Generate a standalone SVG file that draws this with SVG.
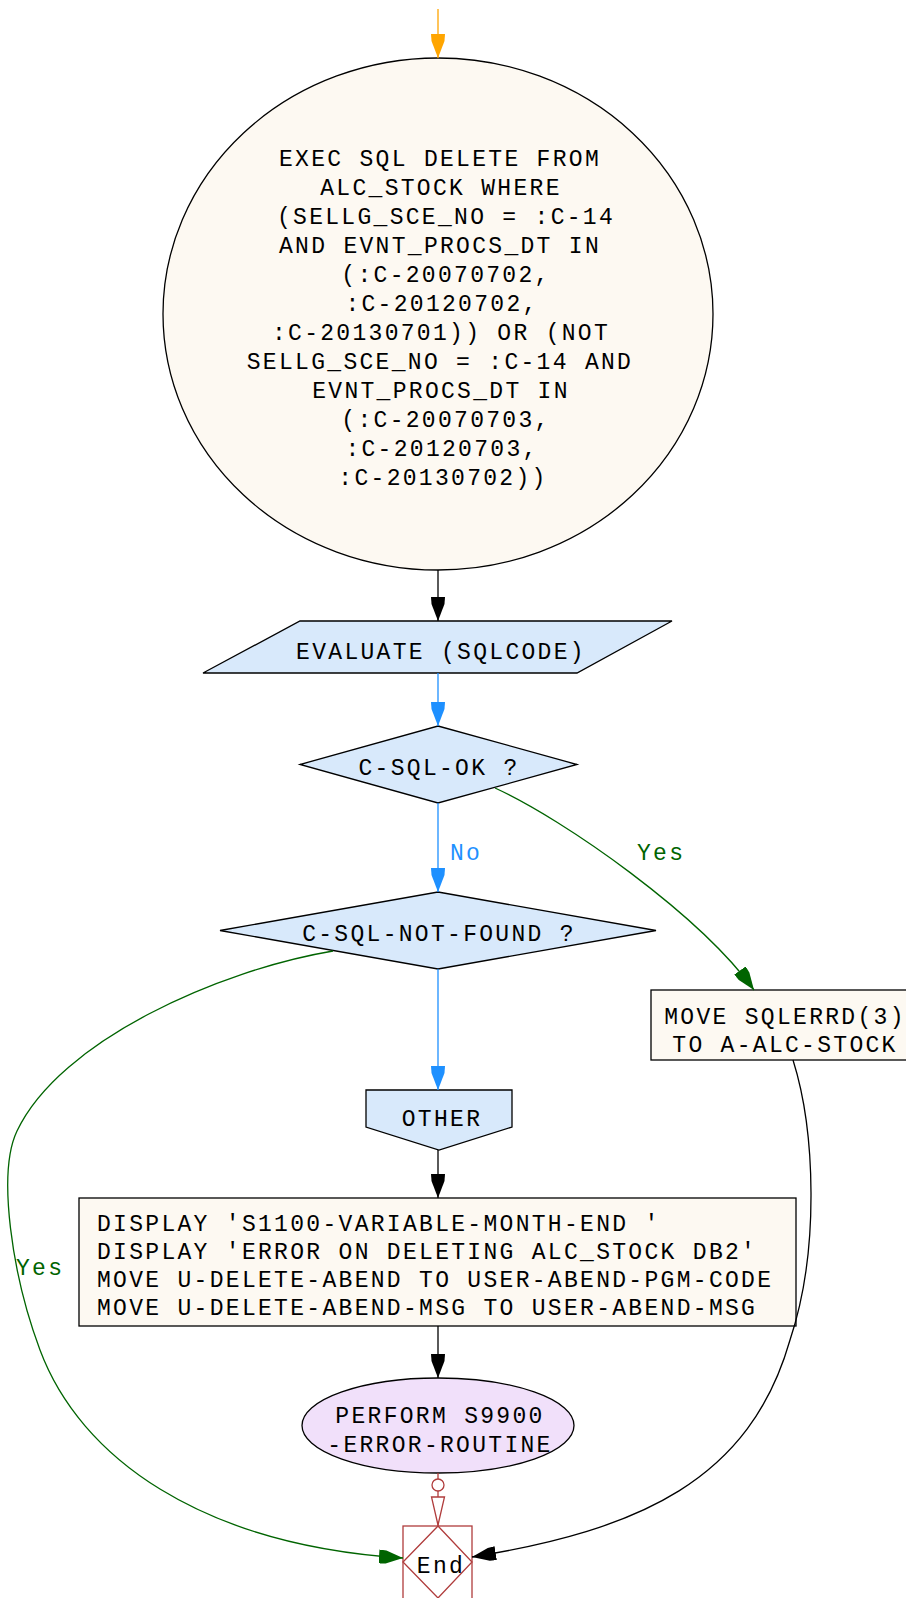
<svg xmlns="http://www.w3.org/2000/svg" width="906" height="1598" viewBox="0 0 906 1598">
  <style>
    text { font-family: "Liberation Mono", "DejaVu Sans Mono", monospace; font-size: 23px; letter-spacing: 2.3px; fill: #000; }
    .c { text-anchor: middle; }
    .proc { fill: #fdf9f2; stroke: #000; stroke-width: 1.3; }
    .dec { fill: #d8e9fb; stroke: #000; stroke-width: 1.3; }
    .call { fill: #f1e0fa; stroke: #000; stroke-width: 1.3; }
    .term { fill: #fff; stroke: #b03c3c; stroke-width: 1.3; }
    .edge { fill: none; stroke-width: 1.3; }
    .k { stroke: #000; }
    .b { stroke: #1e90ff; }
    .g { stroke: #006400; }
    .o { stroke: #ffa500; }
    .lbl-b { fill: #1e90ff; }
    .lbl-g { fill: #006400; }
  </style>
  <defs>
    <marker id="ah-k" viewBox="0 0 24 14" refX="24" refY="7" markerWidth="24" markerHeight="14" markerUnits="userSpaceOnUse" orient="auto">
      <path d="M0,0 L7,0.5 L24,7 L7,13.5 L0,14 Z" fill="#000"/>
    </marker>
    <marker id="ah-b" viewBox="0 0 24 14" refX="24" refY="7" markerWidth="24" markerHeight="14" markerUnits="userSpaceOnUse" orient="auto">
      <path d="M0,0 L7,0.5 L24,7 L7,13.5 L0,14 Z" fill="#1e90ff"/>
    </marker>
    <marker id="ah-g" viewBox="0 0 24 14" refX="24" refY="7" markerWidth="24" markerHeight="14" markerUnits="userSpaceOnUse" orient="auto">
      <path d="M0,0 L7,0.5 L24,7 L7,13.5 L0,14 Z" fill="#006400"/>
    </marker>
    <marker id="ah-o" viewBox="0 0 24 14" refX="24" refY="7" markerWidth="24" markerHeight="14" markerUnits="userSpaceOnUse" orient="auto">
      <path d="M0,0 L7,0.5 L24,7 L7,13.5 L0,14 Z" fill="#ffa500"/>
    </marker>
  </defs>

  <!-- nodes -->
  <g id="sql-delete">
    <ellipse class="proc" cx="438" cy="314" rx="275" ry="256"/>
    <text class="c" x="440" y="166">EXEC SQL DELETE FROM</text>
    <text class="c" x="441" y="195">ALC_STOCK WHERE</text>
    <text class="c" x="446" y="224">(SELLG_SCE_NO = :C-14</text>
    <text class="c" x="440" y="253">AND EVNT_PROCS_DT IN</text>
    <text class="c" x="446" y="282">(:C-20070702,</text>
    <text class="c" x="442" y="311">:C-20120702,</text>
    <text class="c" x="441" y="340">:C-20130701)) OR (NOT</text>
    <text class="c" x="440" y="369">SELLG_SCE_NO = :C-14 AND</text>
    <text class="c" x="441" y="398">EVNT_PROCS_DT IN</text>
    <text class="c" x="446" y="427">(:C-20070703,</text>
    <text class="c" x="442" y="456">:C-20120703,</text>
    <text class="c" x="443" y="485">:C-20130702))</text>
  </g>

  <g id="evaluate">
    <polygon class="dec" points="300,621 672,621 577,673 203,673"/>
    <text class="c" x="441" y="659">EVALUATE (SQLCODE)</text>
  </g>

  <g id="when-ok">
    <polygon class="dec" points="438,726 577,764.5 438,803 300,764.5"/>
    <text class="c" x="439" y="775">C-SQL-OK ?</text>
  </g>

  <g id="when-not-found">
    <polygon class="dec" points="438,892 656,930.5 438,969 220,930.5"/>
    <text class="c" x="439" y="941">C-SQL-NOT-FOUND ?</text>
  </g>

  <g id="move-count">
    <rect class="proc" x="651" y="990" width="266" height="70"/>
    <text class="c" x="785" y="1024">MOVE SQLERRD(3)</text>
    <text class="c" x="785" y="1052">TO A-ALC-STOCK</text>
  </g>

  <g id="when-other">
    <polygon class="dec" points="366,1090 512,1090 512,1127 439,1150 366,1127"/>
    <text class="c" x="442" y="1126">OTHER</text>
  </g>

  <g id="display-error">
    <rect class="proc" x="79" y="1198" width="717" height="128"/>
    <text x="97" y="1230.5">DISPLAY 'S1100-VARIABLE-MONTH-END '</text>
    <text x="97" y="1258.8">DISPLAY 'ERROR ON DELETING ALC_STOCK DB2'</text>
    <text x="97" y="1287.1">MOVE U-DELETE-ABEND TO USER-ABEND-PGM-CODE</text>
    <text x="97" y="1315.4">MOVE U-DELETE-ABEND-MSG TO USER-ABEND-MSG</text>
  </g>

  <g id="perform-error">
    <ellipse class="call" cx="438" cy="1425.5" rx="136" ry="47.5"/>
    <text class="c" x="440" y="1423">PERFORM S9900</text>
    <text class="c" x="440" y="1452">-ERROR-ROUTINE</text>
  </g>

  <g id="end">
    <rect class="term" x="403" y="1526" width="69" height="76"/>
    <polygon class="term" points="438,1526 472,1562 438,1598 403,1562"/>
    <text class="c" x="441" y="1573">End</text>
  </g>

  <!-- connectors -->
  <g id="connectors">
    <path class="edge o" d="M438,9 L438,58" marker-end="url(#ah-o)"/>
    <path class="edge k" d="M438,570 L438,621" marker-end="url(#ah-k)"/>
    <path class="edge b" d="M438,673 L438,726" marker-end="url(#ah-b)"/>
    <path class="edge b" d="M438,803 L438,892" marker-end="url(#ah-b)"/>
    <text class="lbl-b" x="450" y="860">No</text>
    <path class="edge g" d="M495,788 C565,820 700,915 754,990" marker-end="url(#ah-g)"/>
    <text class="lbl-g" x="637" y="860">Yes</text>
    <path class="edge b" d="M438,969 L438,1090" marker-end="url(#ah-b)"/>
    <path class="edge k" d="M438,1150 L438,1198" marker-end="url(#ah-k)"/>
    <path class="edge k" d="M438,1326 L438,1378" marker-end="url(#ah-k)"/>
    <path class="edge g" d="M333,951 C220,970 60,1040 17,1131 C-3,1173 12,1275 40,1350 C80,1457 200,1545 403,1558" marker-end="url(#ah-g)"/>
    <text class="lbl-g" x="16" y="1275">Yes</text>
    <path class="edge k" d="M793,1060 C815,1130 820,1250 790,1340 C750,1480 640,1530 472,1557" marker-end="url(#ah-k)"/>
    <!-- return from the error routine: dot tail, open arrow head -->
    <path class="edge" stroke="#b03c3c" d="M438,1473 L438,1526"/>
    <circle cx="438" cy="1485" r="6" fill="#fff" stroke="#b03c3c" stroke-width="1.3"/>
    <polygon points="431.5,1497 444.5,1497 438,1525" fill="#fff" stroke="#b03c3c" stroke-width="1.3"/>
  </g>
</svg>
